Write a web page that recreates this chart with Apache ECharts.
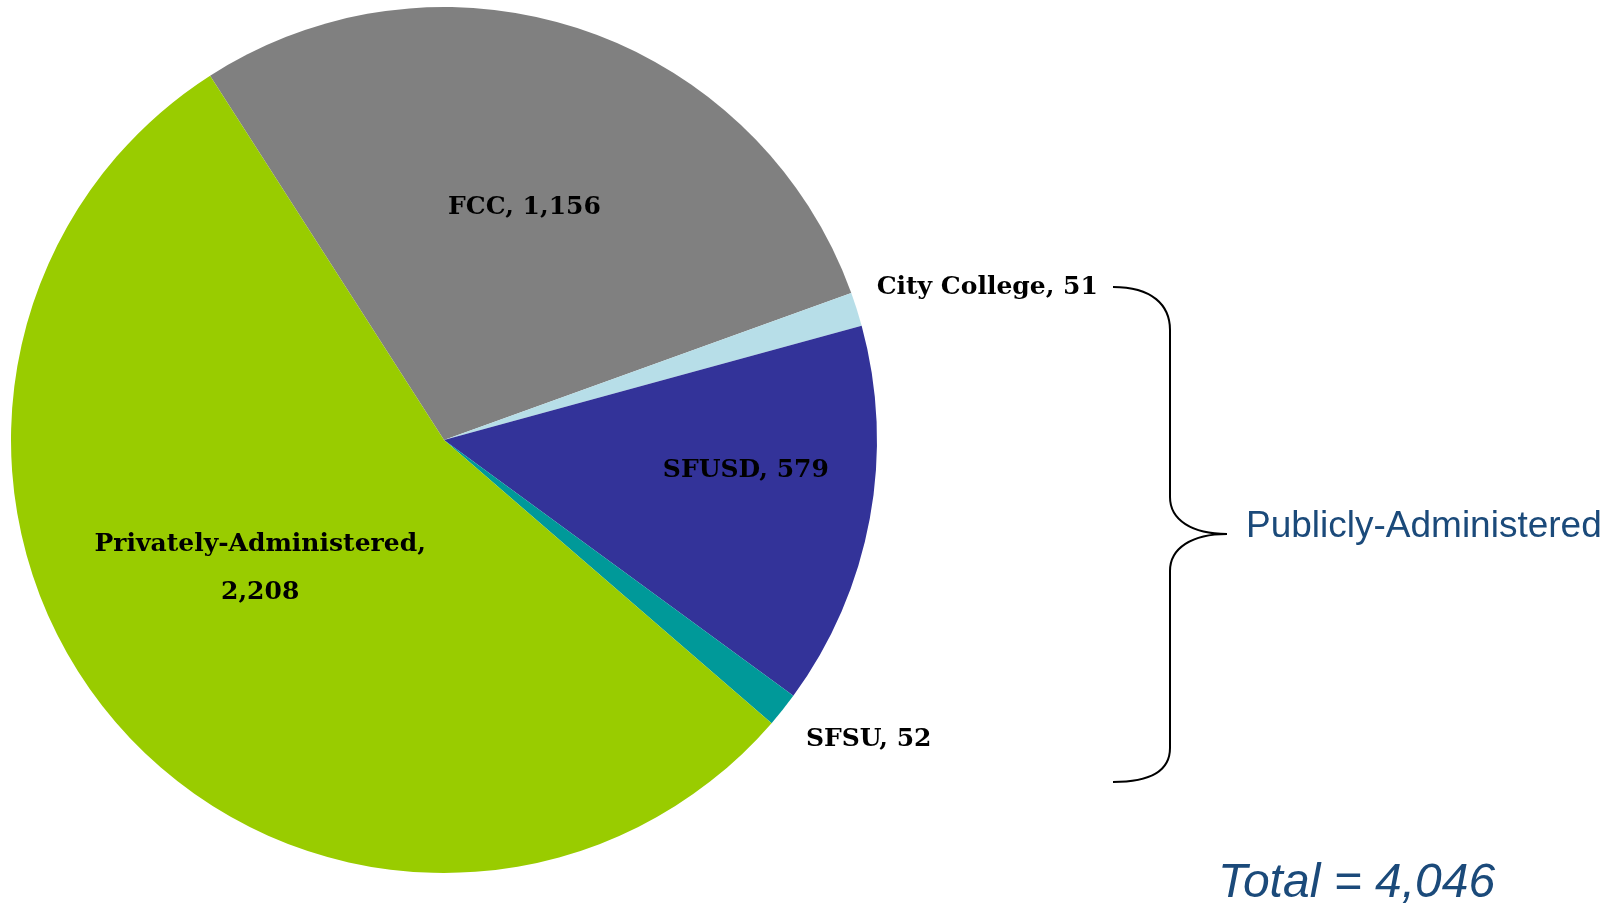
<!DOCTYPE html>
<html>
<head>
<meta charset="utf-8">
<script src="https://cdn.jsdelivr.net/npm/echarts@6/dist/echarts.min.js"></script>
<style>
  html, body { margin: 0; padding: 0; background: #fff; }
  #chart { width: 1618px; height: 908px; }
</style>
</head>
<body>
<div id="chart"></div>
<script>
// slices, clockwise from the top-left edge of FCC
const names = ["FCC", "City College", "SFUSD", "SFSU", "Privately-Administered"];
const values = [1156, 51, 579, 52, 2208];
const colors = ["#808080", "#B7DEE8", "#333399", "#009999", "#99CC00"];
// nudges from the default inside spot, to sit labels like the original
const labelOffsets = [[10, -25], [334, -86], [86, -9], [253, 163], [-18, -15]];

const total = values.reduce((a, b) => a + b, 0);

const fmt = (n) => n.toLocaleString("en-US");

let myChart = echarts.init(document.getElementById("chart"));

const seriesData = names.map((name, i) => ({
  name: name,
  value: values[i],
  itemStyle: { color: colors[i] },
  label: { offset: labelOffsets[i] }
}));

// curly brace pieces
const braceStyle = { fill: null, stroke: "#000", lineWidth: 2 };
const curve = (x1, y1, cx1, cy1, cx2, cy2, x2, y2) => ({
  type: "bezierCurve",
  shape: { x1: x1, y1: y1, cpx1: cx1, cpy1: cy1, cpx2: cx2, cpy2: cy2, x2: x2, y2: y2 },
  style: braceStyle
});
const seg = (x1, y1, x2, y2) => ({
  type: "line",
  shape: { x1: x1, y1: y1, x2: x2, y2: y2 },
  style: braceStyle
});

myChart.setOption({
  animation: false,
  series: [
    {
      type: "pie",
      center: [444, 440],
      radius: 433,
      startAngle: 122.7,
      clockwise: true,
      data: seriesData,
      itemStyle: { borderWidth: 0 },
      label: {
        show: true,
        position: "inside",
        fontFamily: "DejaVu Serif",
        fontWeight: "bold",
        fontSize: 25,
        lineHeight: 48,
        color: "#000",
        formatter: (p) => p.name.length > 15 ? p.name + ",\n" + fmt(p.value) : p.name + ", " + fmt(p.value)
      },
      labelLine: { show: false },
      emphasis: { disabled: true }
    }
  ],
  graphic: [
    curve(1113, 287, 1152, 287, 1170, 305, 1170, 330),
    seg(1170, 330, 1170, 497),
    curve(1170, 497, 1170, 520, 1192, 534, 1227, 534),
    curve(1227, 534, 1192, 534, 1170, 548, 1170, 571),
    seg(1170, 571, 1170, 748),
    curve(1170, 748, 1170, 770, 1152, 782, 1113, 782),
    {
      type: "text",
      left: 1246,
      top: 508,
      style: {
        text: "Publicly-Administered",
        font: "37px 'Liberation Sans'",
        fill: "#1B4A7A"
      }
    },
    {
      type: "text",
      left: 1218,
      top: 860,
      style: {
        text: "Total = " + fmt(total),
        font: "italic 48px 'Liberation Sans'",
        fill: "#1B4A7A"
      }
    }
  ]
});
</script>
</body>
</html>
